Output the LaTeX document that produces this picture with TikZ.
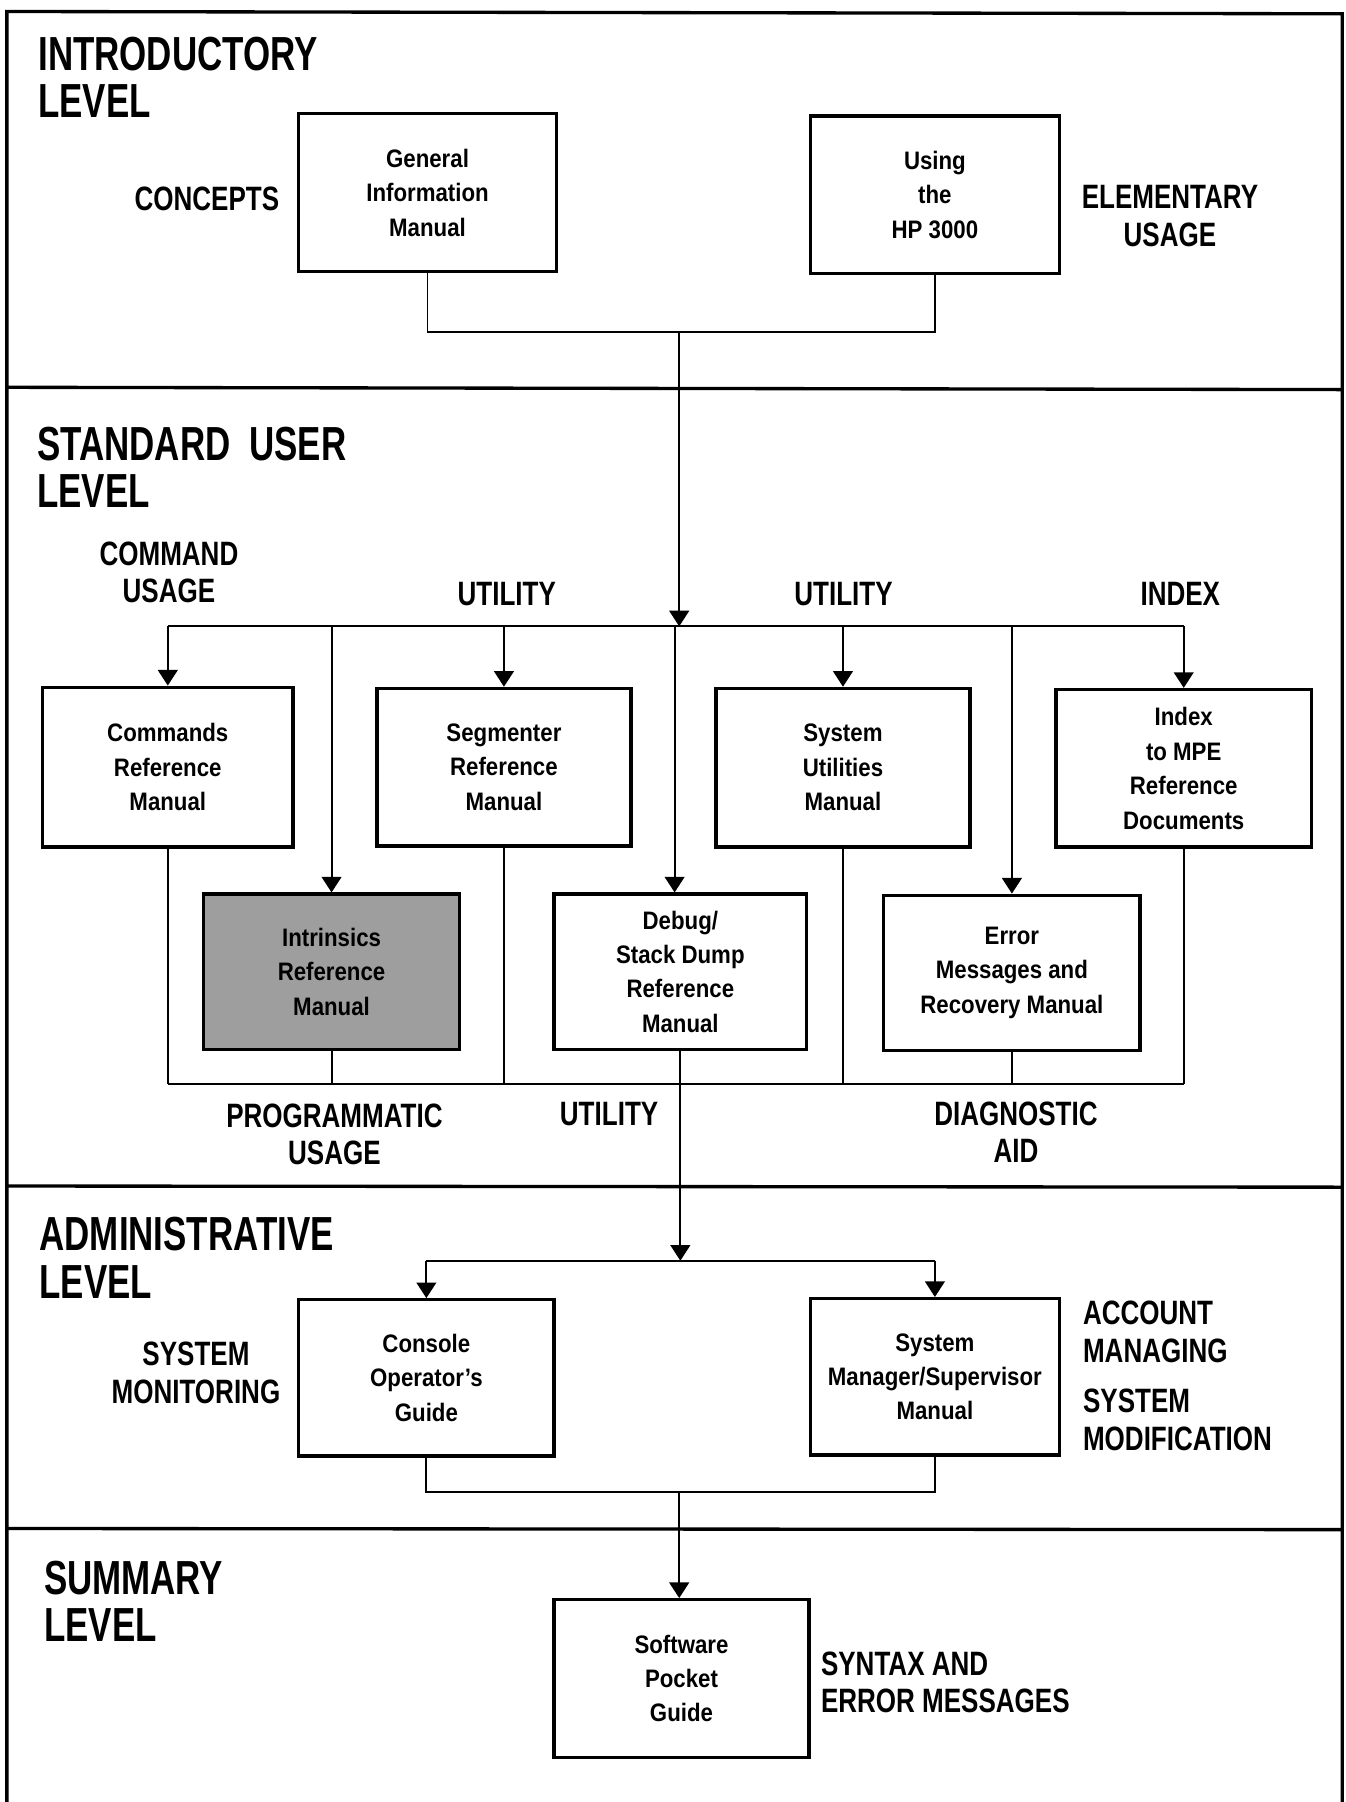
\documentclass[tikz,border=0pt]{standalone}
\usepackage{fontspec}
\setmainfont{Liberation Sans}
% condensed bold faces for level titles, side labels and manual boxes
\newfontfamily\headfont{Liberation Sans}[FakeStretch=0.73]
\newfontfamily\labfont{Liberation Sans}[FakeStretch=0.77]
\newfontfamily\boxfont{Liberation Sans}[FakeStretch=0.88]
\usetikzlibrary{arrows.meta}

\tikzset{
  frame/.style={line width=1.45pt},
  wire/.style={line width=0.85pt},
  arr/.style={wire, -{Triangle[length=6.8pt,width=8.6pt]}},
  docsize/.style 2 args={minimum width=#1*0.5pt, minimum height=#2*0.5pt},
  doc/.style={draw, line width=1.45pt, align=center, inner sep=0pt,
    font=\boxfont\bfseries\fontsize{11}{15}\selectfont},
  head/.style={anchor=north west, align=left, inner sep=0pt,
    font=\headfont\bfseries\fontsize{20.8}{20.6}\selectfont},
  lab/.style={align=center, inner sep=0pt,
    font=\labfont\bfseries\fontsize{14.7}{16.2}\selectfont},
  labl/.style={lab, align=left, anchor=west},
}

\begin{document}
\begin{tikzpicture}[x=0.5pt, y=-0.5pt]
\useasboundingbox (0,0) rectangle (1171,1568);

% page frame and level dividers
\draw[frame] (6,1568) -- (6,10) -- (1168,12) -- (1168,1568);
\draw[frame] (6,337) -- (1168,339);
\draw[frame] (6,1032) -- (1168,1033);
\draw[frame] (6,1330) -- (1168,1331);

% level titles
\node[head] (hintro) at (33,32) {INTRODUCTORY\\LEVEL};
\node[head] (hstd) at (32,371) {STANDARD\hspace{4pt} USER\\LEVEL};
\node[head] (hadm) at (34,1059) {ADMINISTRATIVE\\LEVEL};
\node[head] (hsum) at (38,1358) {SUMMARY\\LEVEL};

% introductory level
\node[doc, docsize={224}{137}] (gim) at (372,167.5) {General\\Information\\Manual};
\node[doc, docsize={217}{137}] (using) at (813.5,169.5) {Using\\the\\HP 3000};
\node[lab] (lconc) at (180,173) {CONCEPTS};
\node[lab] (lelem) at (1018,188) {ELEMENTARY\\USAGE};

% standard user level, first row
\node[doc, docsize={218}{139}] (cmd) at (146,667.5) {Commands\\Reference\\Manual};
\node[doc, docsize={221}{137}] (seg) at (438.5,667.5) {Segmenter\\Reference\\Manual};
\node[doc, docsize={221}{138}] (sysu) at (733.5,668) {System\\Utilities\\Manual};
\node[doc, docsize={222}{137}] (idx) at (1030,668.5) {Index\\to MPE\\Reference\\Documents};
% second row
\node[doc, docsize={223}{135}, fill=black!38] (intr) at (288.5,845.5) {Intrinsics\\Reference\\Manual};
\node[doc, docsize={220}{135}] (dbg) at (592,845.5) {Debug/\\Stack Dump\\Reference\\Manual};
\node[doc, docsize={223}{135}] (err) at (880.5,846.5) {Error\\Messages and\\Recovery Manual};

\node[lab] (lcmd) at (147,498) {COMMAND\\USAGE};
\node[lab] (lut1) at (441,516.5) {UTILITY};
\node[lab] (lut2) at (734,517) {UTILITY};
\node[lab] (lidx) at (1027,517) {INDEX};
\node[lab] (lprog) at (291,987) {PROGRAMMATIC\\USAGE};
\node[lab] (lut3) at (530,969) {UTILITY};
\node[lab] (ldiag) at (884,985) {DIAGNOSTIC\\AID};

% administrative level
\node[doc, docsize={222}{136}] (con) at (371,1199) {Console\\Operator’s\\Guide};
\node[doc, docsize={217}{136}] (mgr) at (813.5,1198) {System\\Manager/Supervisor\\Manual};
\node[lab] (lmon) at (170.5,1194.5) {SYSTEM\\MONITORING};
\node[labl] (lacct) at (942,1159) {ACCOUNT\\MANAGING};
\node[labl] (lmod) at (942,1235.5) {SYSTEM\\MODIFICATION};

% summary level
\node[doc, docsize={222}{137}] (sw) at (593,1460.5) {Software\\Pocket\\Guide};
\node[labl] (lsyn) at (714,1464) {SYNTAX AND\\ERROR MESSAGES};

% junction points of the flow
\coordinate (j1) at (591,289);
\coordinate (b1) at (591,545);
\coordinate (dd) at (587,545);
\coordinate (b2) at (592,943);
\coordinate (b3) at (592,1097);
\coordinate (j4) at (591,1298);

% introductory to standard user
\draw[wire] (gim.south) |- (j1) -| (using.south);
\draw[arr] (j1) -- (b1);

% distribution bus to the standard manuals
\draw[wire] (cmd.north |- b1) -- (idx.north |- b1);
\draw[arr] (cmd.north |- b1) -- (cmd.north);
\draw[arr] (intr.north |- b1) -- (intr.north);
\draw[arr] (seg.north |- b1) -- (seg.north);
\draw[arr] (dd) -- (dd |- dbg.north);
\draw[arr] (sysu.north |- b1) -- (sysu.north);
\draw[arr] (err.north |- b1) -- (err.north);
\draw[arr] (idx.north |- b1) -- (idx.north);

% collecting bus below the standard manuals
\draw[wire] (cmd.south |- b2) -- (idx.south |- b2);
\foreach \n in {cmd,intr,seg,dbg,sysu,err,idx}
  \draw[wire] (\n.south) -- (\n.south |- b2);

% standard user to administrative
\draw[arr] (b2) -- (b3);
\draw[wire] (con.north |- b3) -- (mgr.north |- b3);
\draw[arr] (con.north |- b3) -- (con.north);
\draw[arr] (mgr.north |- b3) -- (mgr.north);

% administrative to summary
\draw[wire] (con.south) |- (j4) -| (mgr.south);
\draw[arr] (j4) -- (j4 |- sw.north);
\end{tikzpicture}
\end{document}
